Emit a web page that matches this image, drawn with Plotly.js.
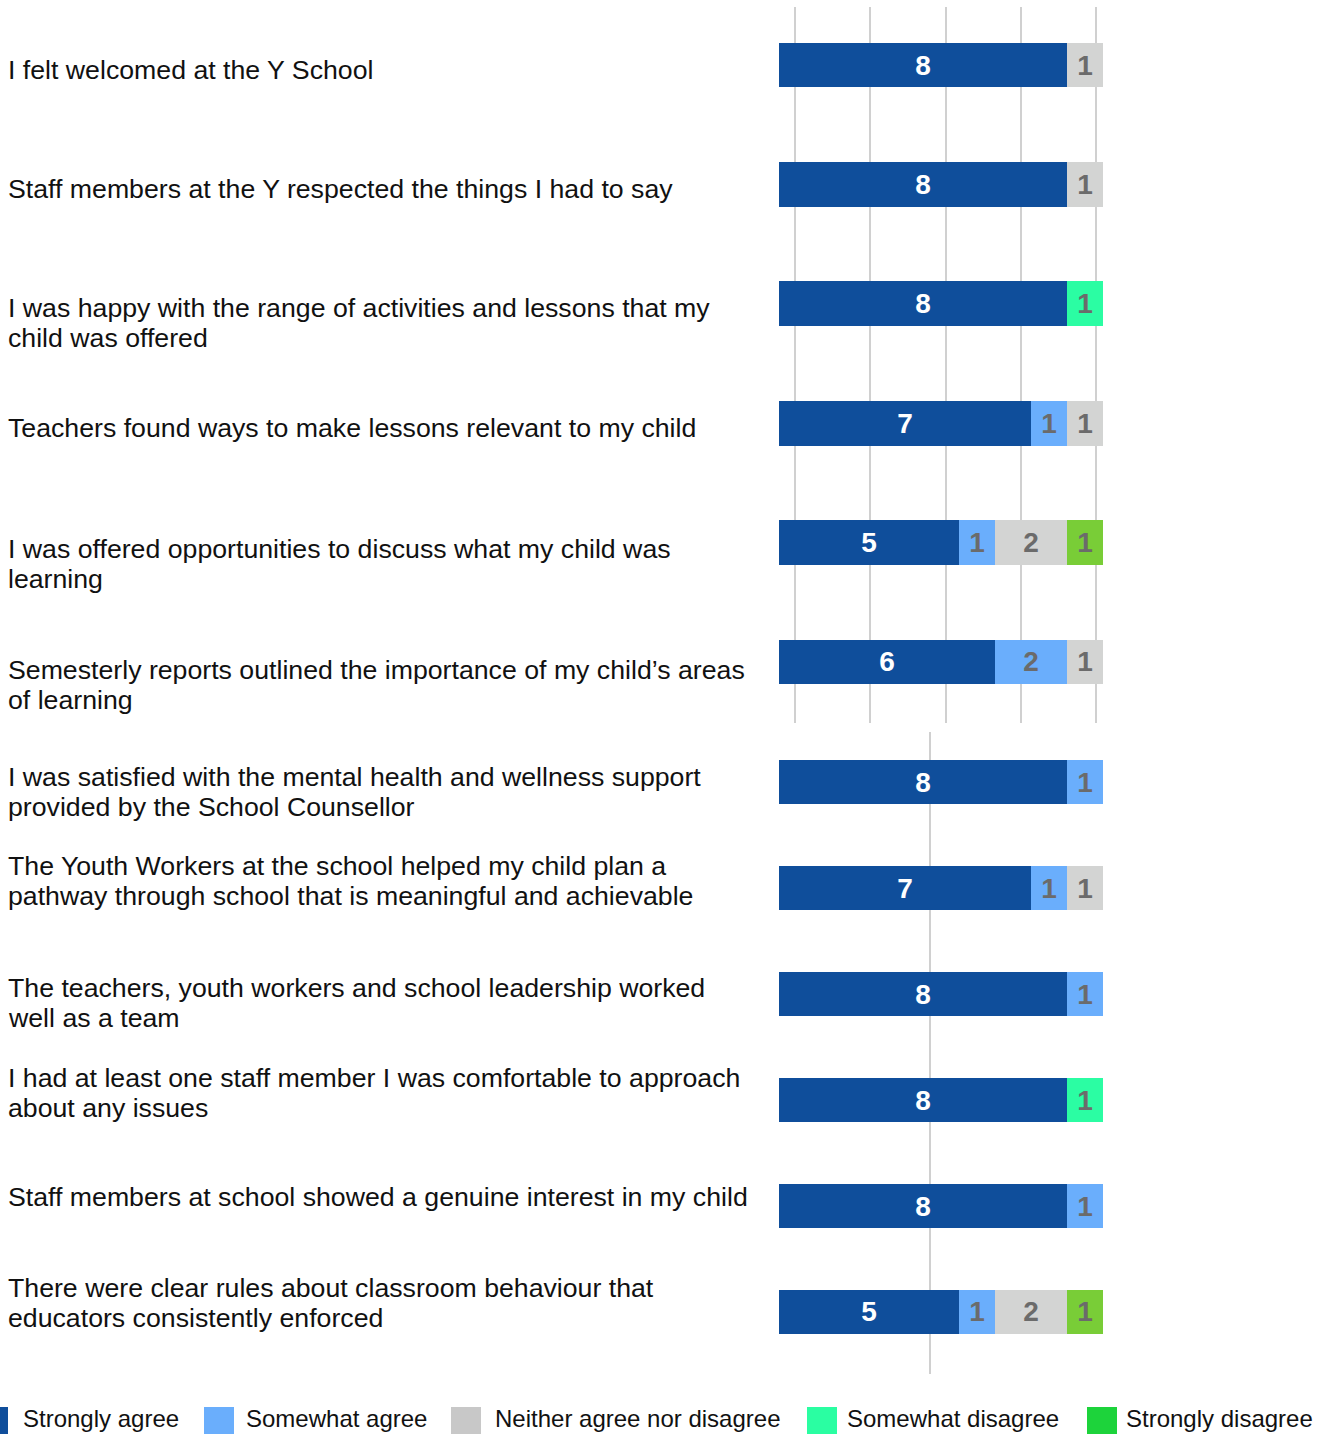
<!DOCTYPE html>
<html>
<head>
<meta charset="utf-8">
<script src="https://cdn.plot.ly/plotly-3.0.1.min.js"></script>
<style>
html,body{margin:0;padding:0;background:#ffffff;}
#chart{width:1328px;height:1434px;}
</style>
</head>
<body>
<div id="chart"></div>
<script>
// ---------- DATA ----------
const categories = [
  "I felt welcomed at the Y School",
  "Staff members at the Y respected the things I had to say",
  "I was happy with the range of activities and lessons that my<br>child was offered",
  "Teachers found ways to make lessons relevant to my child",
  "I was offered opportunities to discuss what my child was<br>learning",
  "Semesterly reports outlined the importance of my child\u2019s areas<br>of learning",
  "I was satisfied with the mental health and wellness support<br>provided by the School Counsellor",
  "The Youth Workers at the school helped my child plan a<br>pathway through school that is meaningful and achievable",
  "The teachers, youth workers and school leadership worked<br>well as a team",
  "I had at least one staff member I was comfortable to approach<br>about any issues",
  "Staff members at school showed a genuine interest in my child",
  "There were clear rules about classroom behaviour that<br>educators consistently enforced"
];
const seriesNames = ["Strongly agree", "Somewhat agree", "Neither agree nor disagree", "Somewhat disagree", "Strongly disagree"];
const stronglyAgree    = [8, 8, 8, 7, 5, 6, 8, 7, 8, 8, 8, 5];
const somewhatAgree    = [0, 0, 0, 1, 1, 2, 1, 1, 1, 0, 1, 1];
const neitherAgree     = [1, 1, 0, 1, 2, 1, 0, 1, 0, 0, 0, 2];
const somewhatDisagree = [0, 0, 1, 0, 0, 0, 0, 0, 0, 1, 0, 0];
const stronglyDisagree = [0, 0, 0, 0, 1, 0, 0, 0, 0, 0, 0, 1];
const seriesValues = [stronglyAgree, somewhatAgree, neitherAgree, somewhatDisagree, stronglyDisagree];

// ---------- STYLE ----------
const W = 1328, H = 1434;
const FONT = "Liberation Sans, Arial, Helvetica, sans-serif";
const barColors    = ["#0f4e9b", "#6aaefc", "#d3d4d3", "#2bfda3", "#79cd37"];
const legendColors = ["#0f4e9b", "#6aaefc", "#c8c8c8", "#2afea2", "#1dd33b"];
const valueColors  = ["#ffffff", "#6b6b6b", "#6b6b6b", "#6b6b6b", "#6b6b6b"];
const gridColor = "#d0d0d0";
const labelOffset = [5, 5, 4, 5, 6, 8, -5, -22, -6, -22, -9, -24]; // px: first label line vs bar centre
const lineGap = 30;
const legendSwatchX = [-22, 204, 451, 807, 1087];
const legendTextX   = [23, 246, 495, 847, 1126];
const legendSwatchY = 1422;
const legendTextY = 1418;

const groups = [
  {start: 0, end: 6,  xa: "x",  ya: "y",  barWidth: 0.374},
  {start: 6, end: 12, xa: "x2", ya: "y2", barWidth: 0.42}
];

const plain = s => s.replace(/<br>/g, " ");
const traces = [];
const annotations = [];

groups.forEach(g => {
  const cats = categories.slice(g.start, g.end).map(plain);
  seriesValues.forEach((vals, s) => {
    const v = vals.slice(g.start, g.end);
    traces.push({
      type: "bar",
      orientation: "h",
      name: seriesNames[s],
      x: v,
      y: cats,
      xaxis: g.xa,
      yaxis: g.ya,
      width: g.barWidth,
      marker: {color: barColors[s], line: {width: 0}},
      text: v.map(n => n > 0 ? String(n) : ""),
      textposition: "inside",
      insidetextanchor: "middle",
      textangle: 0,
      constraintext: "none",
      textfont: {family: FONT, size: 28, color: valueColors[s], weight: "bold"},
      hoverinfo: "name+x",
      showlegend: false
    });
  });
  categories.slice(g.start, g.end).forEach((c, i) => {
    const lines = c.split("<br>");
    const r = g.start + i;
    lines.forEach((ln, k) => {
      annotations.push({
        xref: "paper", yref: g.ya,
        x: 6 / W, y: i,
        xanchor: "left", yanchor: "middle",
        yshift: -(labelOffset[r] + k * lineGap),
        text: ln,
        showarrow: false,
        font: {family: FONT, size: 26.7, color: "#111111"}
      });
    });
  });
});

// legend
seriesNames.forEach((n, s) => {
  annotations.push({
    xref: "paper", yref: "paper",
    x: legendSwatchX[s] / W, y: 1 - legendSwatchY / H,
    xanchor: "left", yanchor: "middle",
    text: "\u00a0", width: 30, height: 30,
    bgcolor: legendColors[s], borderpad: 0, borderwidth: 0,
    showarrow: false, font: {size: 10}
  });
  annotations.push({
    xref: "paper", yref: "paper",
    x: legendTextX[s] / W, y: 1 - legendTextY / H,
    xanchor: "left", yanchor: "middle",
    text: n, showarrow: false, borderpad: 0, borderwidth: 0,
    font: {family: FONT, size: 24, color: "#111111"}
  });
});

const xDomain = [779 / W, 1103 / W];
const layout = {
  width: W, height: H,
  margin: {l: 0, r: 0, t: 0, b: 0, pad: 0},
  paper_bgcolor: "#ffffff",
  plot_bgcolor: "rgba(0,0,0,0)",
  barmode: "stack",
  showlegend: false,
  font: {family: FONT},
  xaxis: {
    domain: xDomain, range: [0, 9], anchor: "y",
    tickmode: "linear", tick0: 0.444, dtick: 2.092,
    showgrid: true, gridcolor: gridColor, gridwidth: 2,
    showticklabels: false, ticks: "", zeroline: false, showline: false, fixedrange: true
  },
  yaxis: {
    domain: [1 - 723 / H, 1 - 7 / H], range: [5.511, -0.486], anchor: "x",
    type: "category",
    showgrid: false, showticklabels: false, ticks: "", zeroline: false, showline: false, fixedrange: true
  },
  xaxis2: {
    domain: xDomain, range: [0, 9], anchor: "y2",
    tickmode: "array", tickvals: [4.2],
    showgrid: true, gridcolor: gridColor, gridwidth: 2,
    showticklabels: false, ticks: "", zeroline: false, showline: false, fixedrange: true
  },
  yaxis2: {
    domain: [1 - 1374 / H, 1 - 732 / H], range: [5.585, -0.472], anchor: "x2",
    type: "category",
    showgrid: false, showticklabels: false, ticks: "", zeroline: false, showline: false, fixedrange: true
  },
  annotations: annotations
};

Plotly.newPlot("chart", traces, layout, {displayModeBar: false, responsive: false});
</script>
</body>
</html>
